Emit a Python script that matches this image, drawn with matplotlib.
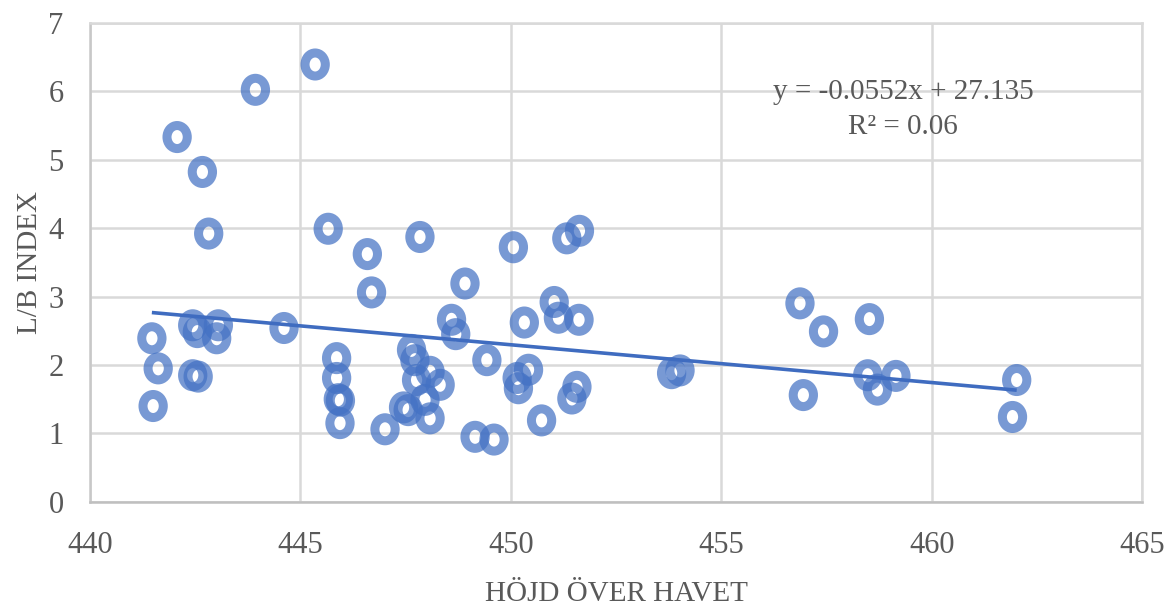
import numpy as np
import matplotlib
matplotlib.use("Agg")
import matplotlib.pyplot as plt
from matplotlib.path import Path
from matplotlib.transforms import Affine2D

# Elevation above sea level (m) and L/B index for each sample
hojd = [441.47, 441.62, 441.50, 442.07, 442.44, 442.55, 442.44, 442.57, 442.67, 442.82,
        443.01, 443.05, 443.93, 444.61, 445.35, 445.66, 445.86, 445.86, 445.90, 445.95,
        445.94, 446.59, 446.69, 447.01, 447.45, 447.56, 447.64, 447.72, 447.76, 447.84,
        447.96, 448.08, 448.08, 448.32, 448.59, 448.69, 448.91, 449.15, 449.43, 449.60,
        450.06, 450.18, 450.15, 450.32, 450.42, 450.73, 451.03, 451.13, 451.33, 451.45,
        451.57, 451.62, 451.63, 453.82, 454.02, 456.87, 456.95, 457.43, 458.52, 458.48,
        458.71, 459.15, 461.92, 462.02]
lb_index = [2.39, 1.95, 1.40, 5.33, 2.58, 2.48, 1.85, 1.83, 4.82, 3.92,
            2.39, 2.58, 6.02, 2.54, 6.39, 3.99, 2.10, 1.81, 1.50, 1.48,
            1.15, 3.62, 3.06, 1.06, 1.38, 1.34, 2.22, 2.07, 1.78, 3.87,
            1.49, 1.90, 1.22, 1.71, 2.66, 2.45, 3.19, 0.95, 2.07, 0.91,
            3.72, 1.66, 1.81, 2.62, 1.93, 1.19, 2.92, 2.69, 3.85, 1.51,
            1.68, 2.66, 3.96, 1.88, 1.92, 2.90, 1.56, 2.49, 2.67, 1.85,
            1.64, 1.84, 1.24, 1.78]

# Linear trend line as stated in the equation label
slope = -0.0552
intercept = 27.135
r_squared = 0.06

x_ticks = [440, 445, 450, 455, 460, 465]
y_ticks = [0, 1, 2, 3, 4, 5, 6, 7]

TEXT = "#595959"
GRID = "#D9D9D9"
BLUE = "#4472C4"
FONT = "Liberation Serif"

fig = plt.figure(figsize=(11.69, 6.15), dpi=100)
ax = fig.add_axes([0.077, 0.184, 0.9, 0.779])

# Slightly tall ring marker
ring = Path.unit_circle().transformed(Affine2D().scale(0.88, 1.0))
ax.scatter(hojd, lb_index, marker=ring, s=275, facecolors="none",
           edgecolors=BLUE, linewidths=6.5, alpha=0.72, zorder=3)

xs = np.array([min(hojd), max(hojd)])
ax.plot(xs, slope * xs + intercept, color="#3F6CC0", lw=2.6, zorder=4,
        solid_capstyle="butt")

ax.set_xlim(x_ticks[0], x_ticks[-1])
ax.set_ylim(y_ticks[0], y_ticks[-1])
ax.set_xticks(x_ticks)
ax.set_yticks(y_ticks)
ax.set_xticklabels([str(t) for t in x_ticks], fontsize=22, family=FONT, color=TEXT)
ax.set_yticklabels([str(t) for t in y_ticks], fontsize=22, family=FONT, color=TEXT)
ax.tick_params(axis="y", length=0, pad=19)
ax.tick_params(axis="x", length=0, pad=21)

ax.grid(True, color=GRID, lw=1.8, zorder=0)
ax.set_axisbelow(True)
for side, sp in ax.spines.items():
    sp.set_color(GRID)
    sp.set_linewidth(1.8)
ax.spines["bottom"].set_color("#BFBFBF")
ax.spines["left"].set_color("#C8C8C8")

ax.set_xlabel("HÖJD ÖVER HAVET", fontsize=21, family=FONT, color=TEXT, labelpad=15)
ax.set_ylabel("L/B INDEX", fontsize=21, family=FONT, color=TEXT, labelpad=4)

eq = f"y = {slope:.4f}x + {intercept:.3f}\nR² = {r_squared:.2f}"
ax.text(0.773, 0.819, eq, transform=ax.transAxes, ha="center", va="center",
        fontsize=21, family=FONT, color=TEXT, linespacing=1.45, zorder=5)

fig.savefig("out.png", dpi=100, facecolor="white")
